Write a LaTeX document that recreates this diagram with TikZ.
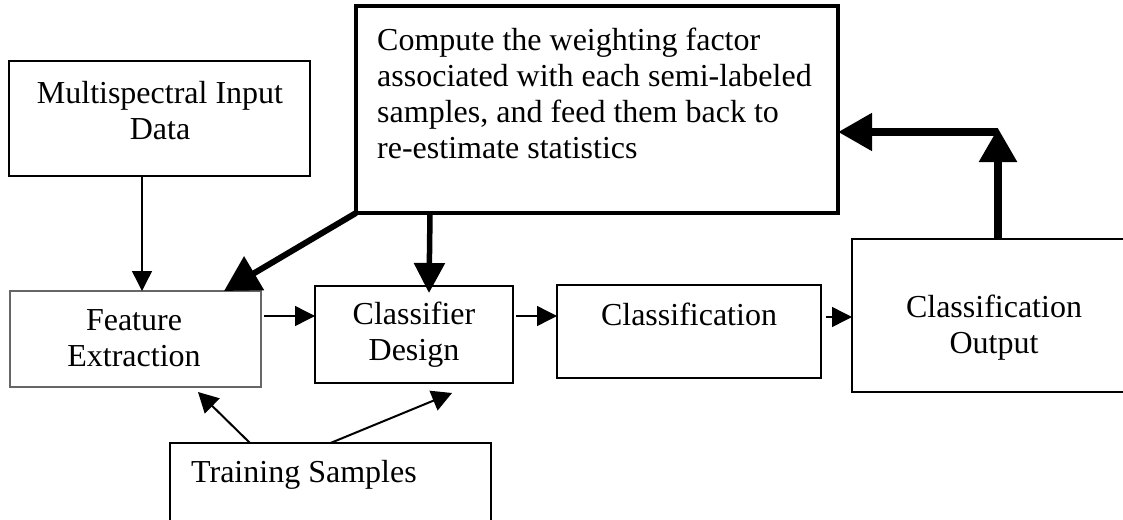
\documentclass[tikz,border=0pt]{standalone}
\usepackage{fontspec}
\setmainfont{Liberation Serif}
\usetikzlibrary{arrows.meta}

\begin{document}
\begin{tikzpicture}[x=1pt,y=-1pt,
  box/.style={draw=black, rectangle, inner sep=0pt, outer sep=0pt},
  label/.style={font=\fontsize{32}{36}\selectfont, inner sep=0pt, anchor=base},
  thinarrow/.style={line width=1.4pt, -{Triangle[length=20pt,width=20pt]}},
  trainarrow/.style={line width=2pt, -{Triangle[length=20pt,width=21pt]}},
  feedback/.style={line width=#1, -{Triangle[length=34pt,width=36pt]}},
]
\path[use as bounding box, clip] (0,0) rectangle (1123,519);

% boxes
\node[box, line width=1.3pt, minimum width=301pt, minimum height=115pt] (ms)  at (159.5,118.5) {};
\node[box, draw=black!60, line width=1.1pt, minimum width=251pt, minimum height=96pt] (fe) at (135.5,339) {};
\node[box, line width=2pt, minimum width=198pt, minimum height=97pt] (cd)  at (414,334.5) {};
\node[box, line width=2pt, minimum width=264pt, minimum height=93pt] (cl)  at (689,331.5) {};
\node[box, line width=1.6pt, minimum width=292pt, minimum height=153pt] (out) at (998,315.5) {};
\node[box, line width=1.6pt, minimum width=321pt, minimum height=117pt] (tr)  at (330.5,501.5) {};
\node[box, line width=3.5pt, minimum width=482pt, minimum height=207pt] (comp) at (597,109.5) {};

% texts (the base anchor of a multi-line label sits on its last line)
\node[label, align=center] (ms-t)  at (160,139) {Multispectral Input\\Data};
\node[label, align=center] (fe-t)  at (134,366) {Feature\\Extraction};
\node[label, align=center] (cd-t)  at (414,360) {Classifier\\Design};
\node[label] (cl-t)  at (689,325) {Classification};
\node[label, align=center] (out-t) at (994,353) {Classification\\Output};
\node[label, anchor=base west] (tr-t) at (191,482) {Training Samples};
\node[label, anchor=base west, align=left] (comp-t) at (377,158) {Compute the weighting factor\\associated with each semi-labeled\\samples, and feed them back to\\re-estimate statistics};

% main flow
\draw[thinarrow] ([xshift=-17.5pt]ms.south) -- ([xshift=6.5pt]fe.north);
\draw[thinarrow] ([xshift=3pt,yshift=23pt]fe.east) -- ([yshift=18.5pt]cd.west);
\draw[thinarrow] ([xshift=3pt,yshift=18.5pt]cd.east) -- ([yshift=15.5pt]cl.west);
\draw[thinarrow] ([xshift=5pt,yshift=14.5pt]cl.east) -- ([yshift=-1.5pt]out.west);

% training samples
\draw[trainarrow] ([xshift=-80.5pt]tr.north) -- ([xshift=62.5pt,yshift=-5pt]fe.south);
\draw[trainarrow] (tr.north) -- ([xshift=38pt,yshift=-10pt]cd.south);

% feedback loop
\coordinate (elbow) at (998,128);
\draw[line width=6pt, -{Triangle[length=35pt,width=38pt]}] (comp.south west) -- ([xshift=-37pt]fe.north east);
\draw[line width=5.5pt, -{Triangle[length=30pt,width=30pt]}] ([xshift=-167pt]comp.south) -- ([xshift=15pt,yshift=-7pt]cd.north);
\draw[feedback=8.5pt] (out.north) -- (elbow);
\draw[feedback=8pt] ([yshift=-4pt]elbow) -- ([yshift=-22.5pt]comp.east);
\end{tikzpicture}
\end{document}
